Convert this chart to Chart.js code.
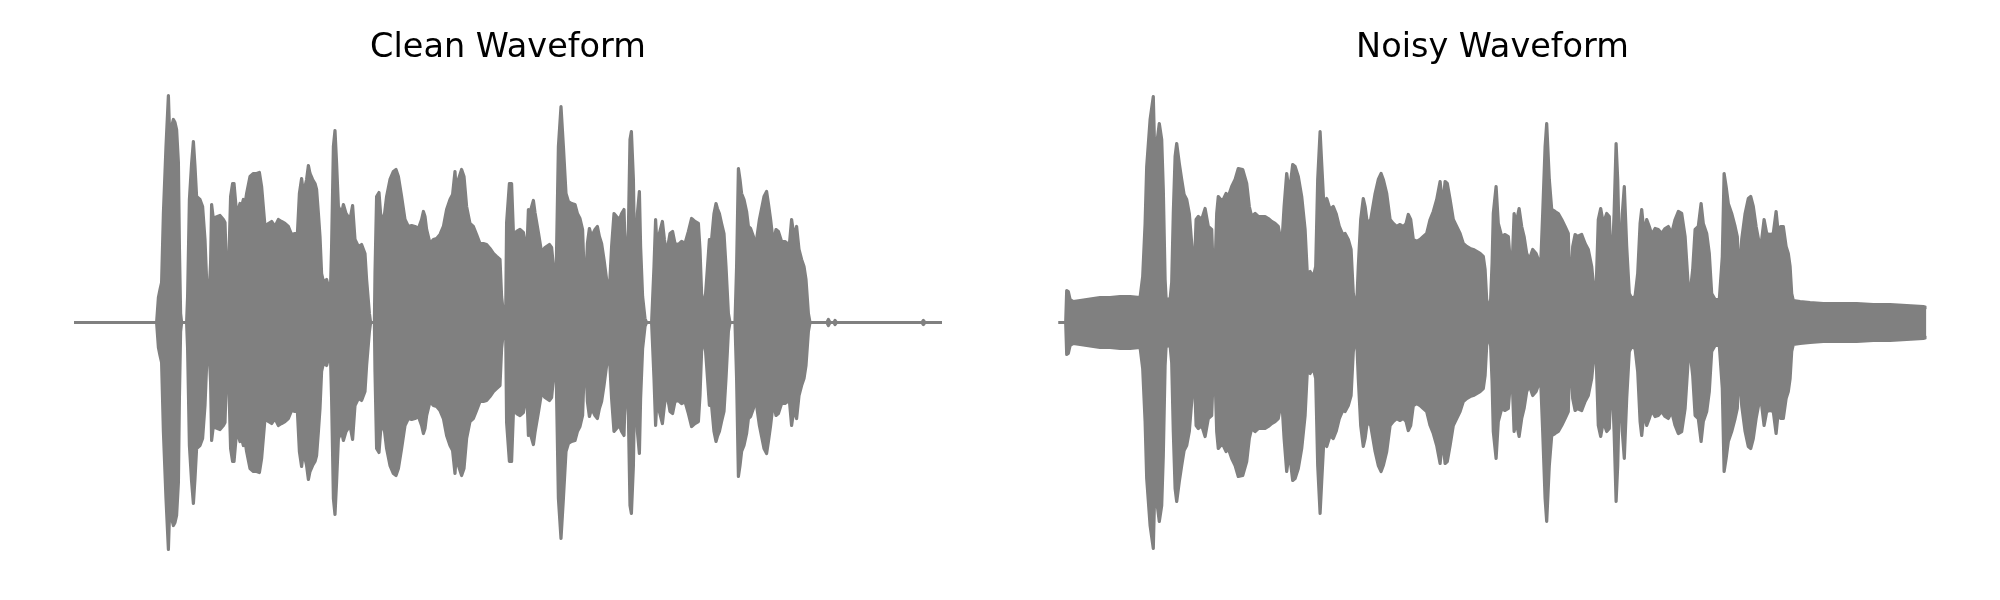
<!DOCTYPE html>
<html lang="en">

<head>
  <meta charset="UTF-8" />
  <title>Waveforms</title>
  <script src="https://cdn.jsdelivr.net/npm/chart.js"></script>
  <style>
    * {
      margin: 0;
      padding: 0;
      box-sizing: border-box;
    }

    body {
      background: #fff;
      width: 2000px;
      height: 600px;
      overflow: hidden;
    }

    .panel {
      position: absolute;
      top: 0;
      width: 1000px;
      height: 600px;
    }
  </style>
</head>

<body>
  <div class="panel" style="left: 0;"><canvas id="cleanChart"></canvas></div>
  <div class="panel" style="left: 1000px;"><canvas id="noisyChart"></canvas></div>

  <script>
    // envelope of each waveform: [time in ms, peak amplitude]
    const duration = 4340;

    const cleanEnvelope = [
      [0, 0], [413, 0], [422, 0.05], [430, 0.066], [438, 0.08], [447, 0.218], [460, 0.352], [472, 0.454],
      [480, 0.352], [487, 0.39], [497, 0.406], [505, 0.4], [513, 0.386], [522, 0.32], [527, 0.152], [533, 0.018],
      [538, 0], [563, 0], [568, 0.052], [577, 0.246], [588, 0.318], [597, 0.362], [605, 0.312], [613, 0.252],
      [630, 0.246], [643, 0.232], [655, 0.166], [663, 0.086], [675, 0.052], [683, 0.12], [688, 0.236], [697, 0.206],
      [705, 0.21], [730, 0.214], [747, 0.206], [755, 0.2], [763, 0.098], [772, 0.092], [783, 0.252], [793, 0.278],
      [800, 0.278], [810, 0.232], [822, 0.226], [830, 0.238], [838, 0.232], [847, 0.246], [855, 0.236], [863, 0.258],
      [880, 0.292], [897, 0.298], [913, 0.298], [927, 0.3], [938, 0.272], [955, 0.192], [972, 0.198], [988, 0.202],
      [1005, 0.192], [1022, 0.206], [1038, 0.202], [1055, 0.198], [1072, 0.192], [1088, 0.176], [1105, 0.178], [1117, 0.178],
      [1127, 0.258], [1138, 0.288], [1147, 0.258], [1163, 0.286], [1172, 0.314], [1180, 0.298], [1193, 0.286], [1205, 0.278],
      [1213, 0.266], [1222, 0.218], [1230, 0.172], [1238, 0.098], [1247, 0.082], [1263, 0.086], [1272, 0.072], [1280, 0.032],
      [1288, 0.152], [1297, 0.352], [1305, 0.384], [1313, 0.318], [1322, 0.232], [1338, 0.218], [1347, 0.236], [1360, 0.218],
      [1380, 0.206], [1393, 0.234], [1405, 0.166], [1422, 0.152], [1438, 0.156], [1455, 0.138], [1463, 0.086], [1477, 0.018],
      [1483, 0], [1502, 0], [1505, 0.098], [1513, 0.252], [1525, 0.26], [1533, 0.218], [1547, 0.198], [1563, 0.252],
      [1580, 0.286], [1597, 0.302], [1610, 0.306], [1622, 0.292], [1638, 0.252], [1655, 0.206], [1672, 0.192], [1688, 0.194],
      [1705, 0.192], [1722, 0.188], [1738, 0.206], [1747, 0.222], [1755, 0.212], [1763, 0.186], [1780, 0.158], [1797, 0.166],
      [1813, 0.168], [1830, 0.176], [1847, 0.192], [1863, 0.226], [1880, 0.246], [1893, 0.256], [1905, 0.302], [1913, 0.252],
      [1922, 0.286], [1938, 0.306], [1950, 0.292], [1963, 0.232], [1980, 0.198], [1997, 0.192], [2013, 0.176], [2030, 0.158],
      [2047, 0.158], [2063, 0.156], [2080, 0.148], [2097, 0.138], [2113, 0.132], [2130, 0.126], [2138, 0.052], [2147, 0.018],
      [2153, 0], [2158, 0], [2163, 0.2], [2177, 0.278], [2188, 0.278], [2197, 0.18], [2205, 0.176], [2213, 0.182],
      [2230, 0.186], [2247, 0.18], [2255, 0.16], [2263, 0.126], [2272, 0.226], [2280, 0.22], [2297, 0.244], [2305, 0.22],
      [2322, 0.18], [2338, 0.14], [2355, 0.15], [2377, 0.156], [2388, 0.15], [2400, 0.1], [2410, 0.08], [2422, 0.352],
      [2435, 0.432], [2447, 0.352], [2460, 0.258], [2472, 0.242], [2488, 0.238], [2505, 0.236], [2517, 0.218], [2530, 0.208],
      [2543, 0.186], [2555, 0.046], [2567, 0.158], [2577, 0.188], [2588, 0.172], [2605, 0.186], [2617, 0.192], [2627, 0.172],
      [2638, 0.158], [2650, 0.126], [2663, 0.086], [2677, 0.066], [2688, 0.152], [2700, 0.218], [2713, 0.212], [2727, 0.206],
      [2738, 0.218], [2750, 0.226], [2760, 0.092], [2772, 0.186], [2780, 0.366], [2787, 0.382], [2797, 0.286], [2805, 0.086],
      [2817, 0.218], [2827, 0.262], [2833, 0.152], [2843, 0.052], [2855, 0.008], [2863, 0], [2888, 0], [2893, 0.046],
      [2900, 0.112], [2908, 0.206], [2917, 0.138], [2927, 0.178], [2942, 0.202], [2952, 0.166], [2963, 0.138], [2980, 0.178],
      [2993, 0.182], [3005, 0.158], [3022, 0.156], [3038, 0.162], [3055, 0.158], [3072, 0.182], [3088, 0.208], [3105, 0.202],
      [3122, 0.198], [3130, 0.146], [3138, 0.058], [3147, 0.038], [3155, 0.042], [3163, 0.086], [3177, 0.166], [3188, 0.166],
      [3200, 0.218], [3210, 0.238], [3217, 0.228], [3227, 0.218], [3238, 0.198], [3250, 0.178], [3260, 0.112], [3272, 0.018],
      [3280, 0], [3305, 0], [3313, 0.112], [3322, 0.308], [3330, 0.286], [3338, 0.258], [3350, 0.246], [3363, 0.222],
      [3372, 0.192], [3383, 0.188], [3397, 0.172], [3405, 0.152], [3413, 0.166], [3427, 0.206], [3438, 0.228], [3450, 0.252],
      [3463, 0.262], [3472, 0.238], [3483, 0.206], [3497, 0.158], [3510, 0.186], [3522, 0.182], [3538, 0.162], [3555, 0.162],
      [3567, 0.158], [3577, 0.156], [3588, 0.206], [3600, 0.172], [3613, 0.192], [3625, 0.146], [3638, 0.126], [3650, 0.112],
      [3660, 0.086], [3672, 0.018], [3680, 0], [3765, 0], [3772, 0.006], [3780, 0], [3800, 0], [3805, 0.004],
      [3812, 0], [4240, 0], [4247, 0.004], [4254, 0], [4340, 0]
    ];

    const noisyEnvelope = [
      [0, 0], [36, 0], [41, 0.064], [49, 0.062], [58, 0.046], [74, 0.042], [108, 0.044], [141, 0.046],
      [174, 0.048], [208, 0.05], [258, 0.05], [308, 0.052], [358, 0.052], [408, 0.05], [421, 0.092], [433, 0.198],
      [441, 0.312], [458, 0.406], [474, 0.452], [483, 0.306], [494, 0.366], [504, 0.398], [516, 0.366], [524, 0.266],
      [533, 0.086], [538, 0.048], [558, 0.046], [566, 0.08], [574, 0.218], [583, 0.332], [591, 0.358], [604, 0.318],
      [616, 0.286], [628, 0.256], [641, 0.246], [654, 0.218], [666, 0.158], [678, 0.092], [688, 0.206], [699, 0.212],
      [716, 0.206], [733, 0.228], [749, 0.192], [766, 0.186], [774, 0.098], [783, 0.112], [791, 0.218], [799, 0.252],
      [811, 0.246], [824, 0.246], [838, 0.258], [849, 0.252], [866, 0.272], [883, 0.286], [899, 0.308], [921, 0.306],
      [941, 0.278], [954, 0.232], [966, 0.212], [983, 0.218], [999, 0.212], [1016, 0.212], [1033, 0.212], [1049, 0.208],
      [1066, 0.202], [1083, 0.198], [1099, 0.192], [1108, 0.172], [1119, 0.172], [1128, 0.232], [1141, 0.298], [1154, 0.258],
      [1171, 0.316], [1183, 0.312], [1199, 0.292], [1216, 0.252], [1233, 0.186], [1244, 0.098], [1258, 0.102], [1274, 0.092],
      [1286, 0.112], [1296, 0.286], [1308, 0.382], [1316, 0.318], [1328, 0.226], [1341, 0.248], [1358, 0.226], [1374, 0.232],
      [1388, 0.218], [1404, 0.192], [1421, 0.176], [1433, 0.178], [1449, 0.166], [1463, 0.146], [1474, 0.058], [1483, 0.036],
      [1491, 0.036], [1499, 0.112], [1511, 0.206], [1524, 0.248], [1533, 0.232], [1544, 0.198], [1561, 0.206], [1583, 0.258],
      [1599, 0.286], [1613, 0.298], [1624, 0.286], [1641, 0.258], [1658, 0.206], [1674, 0.198], [1691, 0.192], [1708, 0.196],
      [1724, 0.192], [1738, 0.198], [1749, 0.216], [1761, 0.206], [1774, 0.166], [1791, 0.162], [1808, 0.166], [1824, 0.172],
      [1841, 0.178], [1858, 0.206], [1874, 0.222], [1891, 0.246], [1908, 0.282], [1921, 0.232], [1933, 0.282], [1944, 0.278],
      [1958, 0.246], [1974, 0.206], [1991, 0.192], [2008, 0.178], [2024, 0.158], [2041, 0.152], [2058, 0.148], [2074, 0.146],
      [2091, 0.142], [2108, 0.138], [2124, 0.132], [2133, 0.106], [2141, 0.046], [2158, 0.02], [2168, 0.12], [2174, 0.218],
      [2188, 0.272], [2199, 0.198], [2216, 0.172], [2233, 0.176], [2249, 0.172], [2261, 0.112], [2266, 0.09], [2278, 0.218],
      [2288, 0.198], [2303, 0.228], [2316, 0.192], [2328, 0.172], [2341, 0.138], [2354, 0.126], [2371, 0.146], [2388, 0.138],
      [2399, 0.126], [2408, 0.086], [2421, 0.218], [2433, 0.352], [2441, 0.398], [2454, 0.286], [2466, 0.226], [2483, 0.222],
      [2499, 0.218], [2516, 0.206], [2533, 0.192], [2549, 0.178], [2558, 0.046], [2571, 0.152], [2583, 0.176], [2594, 0.172],
      [2616, 0.176], [2633, 0.158], [2649, 0.146], [2666, 0.112], [2678, 0.062], [2688, 0.066], [2699, 0.206], [2711, 0.228],
      [2724, 0.198], [2741, 0.218], [2754, 0.212], [2766, 0.092], [2778, 0.218], [2788, 0.358], [2796, 0.286], [2808, 0.092],
      [2819, 0.218], [2829, 0.272], [2841, 0.152], [2854, 0.058], [2866, 0.048], [2883, 0.052], [2896, 0.098], [2908, 0.198],
      [2916, 0.226], [2928, 0.178], [2941, 0.206], [2954, 0.192], [2966, 0.176], [2983, 0.188], [2999, 0.186], [3016, 0.178],
      [3033, 0.188], [3049, 0.192], [3066, 0.178], [3083, 0.206], [3099, 0.222], [3116, 0.218], [3133, 0.172], [3149, 0.072],
      [3158, 0.058], [3171, 0.106], [3183, 0.186], [3199, 0.192], [3213, 0.238], [3224, 0.198], [3241, 0.178], [3254, 0.138],
      [3266, 0.058], [3283, 0.046], [3304, 0.046], [3319, 0.132], [3328, 0.298], [3338, 0.272], [3349, 0.238], [3366, 0.218],
      [3383, 0.192], [3394, 0.172], [3404, 0.086], [3416, 0.166], [3433, 0.218], [3449, 0.248], [3461, 0.252], [3474, 0.232],
      [3488, 0.192], [3504, 0.158], [3516, 0.166], [3528, 0.206], [3541, 0.178], [3558, 0.176], [3574, 0.178], [3588, 0.222],
      [3599, 0.178], [3611, 0.192], [3624, 0.192], [3638, 0.152], [3649, 0.138], [3658, 0.112], [3666, 0.058], [3674, 0.044],
      [3708, 0.042], [3758, 0.04], [3824, 0.038], [3908, 0.038], [3991, 0.038], [4074, 0.036], [4158, 0.036], [4241, 0.034],
      [4324, 0.032], [4340, 0.03]
    ];

    const titles = ['Clean Waveform', 'Noisy Waveform'];
    const waveColor = '#808080';

    function makeWaveChart(id, title, envelope, padLeft, padRight) {
      const upper = envelope.map(p => ({ x: p[0], y: p[1] }));
      const lower = envelope.map(p => ({ x: p[0], y: -p[1] }));
      const lineStyle = {
        borderColor: waveColor,
        backgroundColor: waveColor,
        borderWidth: 3.2,
        borderJoinStyle: 'round',
        borderCapStyle: 'round',
        pointRadius: 0,
        tension: 0
      };
      return new Chart(document.getElementById(id), {
        type: 'line',
        data: {
          datasets: [
            Object.assign({ data: upper, fill: '+1' }, lineStyle),
            Object.assign({ data: lower, fill: false }, lineStyle)
          ]
        },
        options: {
          responsive: true,
          maintainAspectRatio: false,
          animation: false,
          devicePixelRatio: 1,
          layout: {
            padding: { left: padLeft, right: padRight, top: 0, bottom: 27.5 }
          },
          plugins: {
            legend: { display: false },
            tooltip: { enabled: false },
            title: {
              display: true,
              text: title,
              color: '#000',
              font: { family: 'DejaVu Sans', size: 33.5, weight: 'normal' },
              padding: { top: 28.5, bottom: 3.8 }
            }
          },
          scales: {
            x: { type: 'linear', min: 0, max: duration, display: false },
            y: { min: -0.5, max: 0.5, display: false }
          }
        }
      });
    }

    makeWaveChart('cleanChart', titles[0], cleanEnvelope, 74, 58);
    makeWaveChart('noisyChart', titles[1], noisyEnvelope, 58.5, 73.5);
  </script>

</body>

</html>
